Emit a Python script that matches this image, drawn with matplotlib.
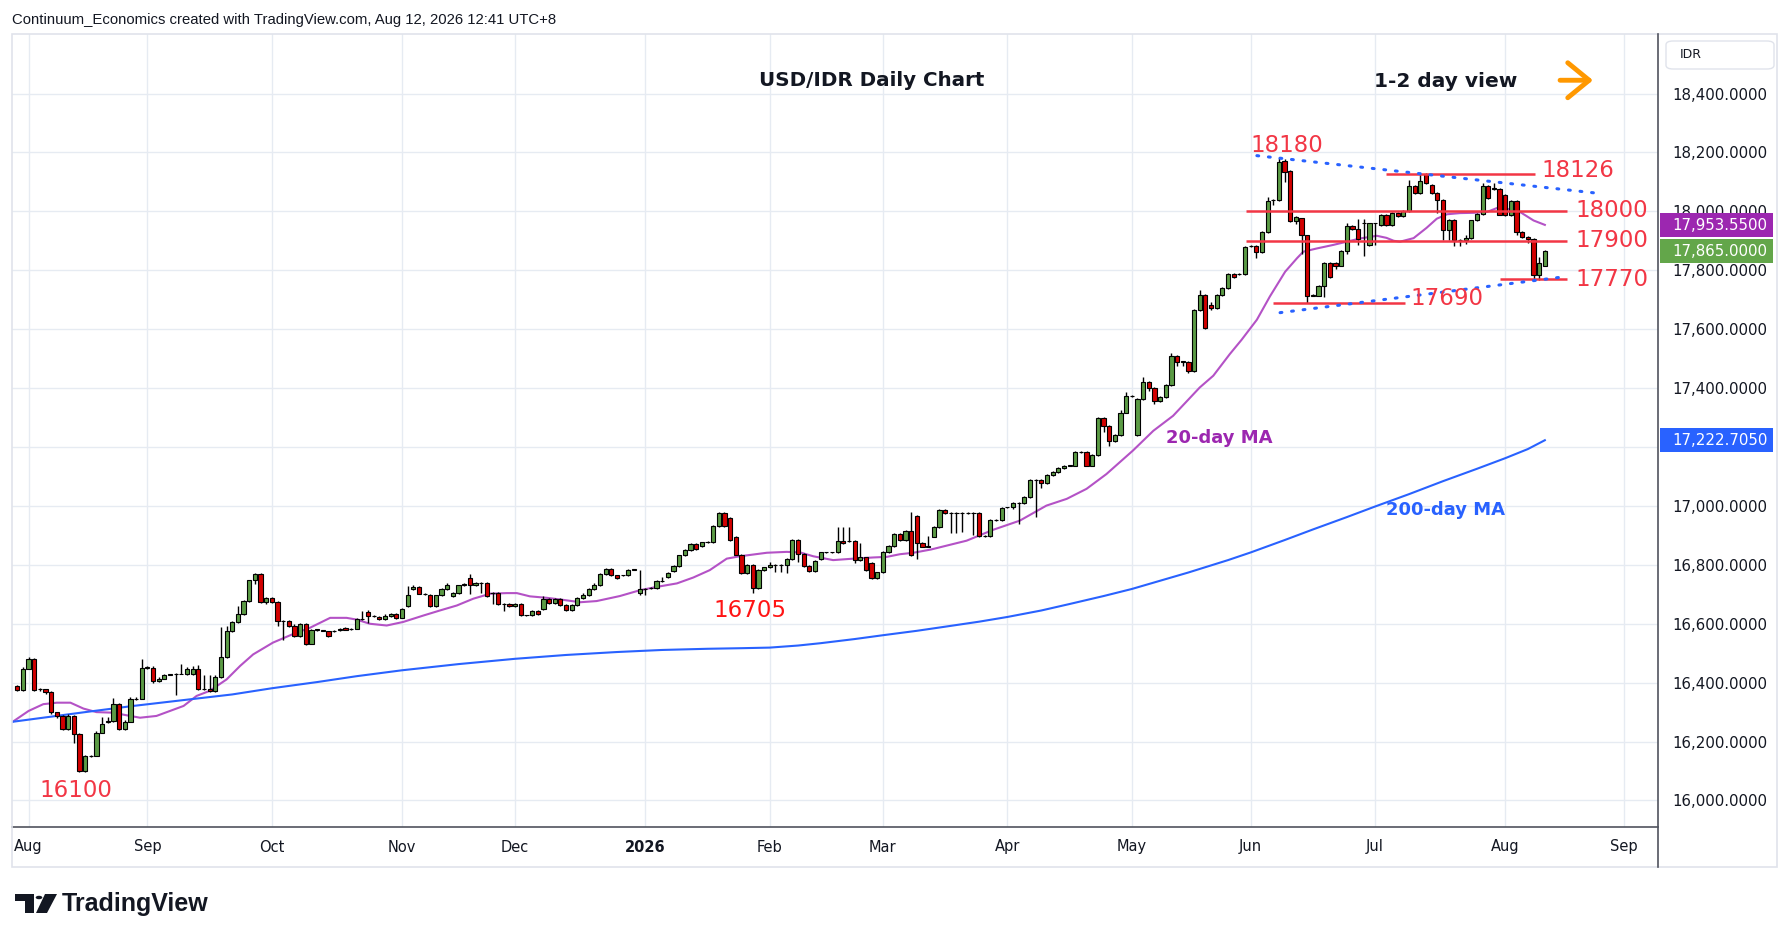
import numpy as np
import pandas as pd
import matplotlib
matplotlib.use("Agg")
import matplotlib.pyplot as plt
from matplotlib.patches import Rectangle, Polygon, Circle, FancyBboxPatch
from matplotlib.lines import Line2D
from matplotlib.transforms import blended_transform_factory

# ---------------- data ----------------
first_day, last_day = "2025-07-30", "2026-08-12"
axis_end_day = "2026-09-30"

opens = [
    16389, 16375, 16448, 16482, 16379, 16378, 16368, 16300, 16287, 16242,
    16287, 16225, 16100, 16151, 16151, 16230, 16268, 16270, 16329, 16244,
    16268, 16344, 16346, 16451, 16451, 16406, 16414, 16427, 16428, 16430,
    16428, 16428, 16446, 16378, 16378, 16371, 16419, 16487, 16574, 16606,
    16632, 16676, 16747, 16769, 16673, 16687, 16673, 16608, 16608, 16594,
    16557, 16600, 16532, 16580, 16577, 16574, 16576, 16580, 16586, 16582,
    16583, 16617, 16641, 16625, 16623, 16616, 16627, 16634, 16620, 16660,
    16719, 16724, 16702, 16698, 16660, 16696, 16719, 16694, 16705, 16730,
    16756, 16730, 16739, 16739, 16705, 16705, 16668, 16668, 16659, 16666,
    16628, 16628, 16642, 16650, 16685, 16671, 16685, 16664, 16647, 16664,
    16688, 16696, 16719, 16730, 16769, 16786, 16764, 16764, 16765, 16784,
    16703, 16717, 16720, 16720, 16746, 16757, 16780, 16797, 16832, 16850,
    16872, 16863, 16878, 16876, 16931, 16976, 16960, 16895, 16835, 16773,
    16799, 16720, 16782, 16791, 16799, 16799, 16799, 16821, 16884, 16836,
    16795, 16779, 16821, 16842, 16842, 16842, 16880, 16880, 16881, 16816,
    16825, 16807, 16754, 16774, 16844, 16864, 16905, 16885, 16916, 16965,
    16875, 16862, 16896, 16928, 16986, 16977, 16977, 16977, 16977, 16977,
    16976, 16898, 16898, 16953, 16953, 16995, 16995, 17010, 17010, 17029,
    17088, 17088, 17078, 17106, 17115, 17129, 17137, 17137, 17182, 17182,
    17137, 17174, 17300, 17272, 17221, 17241, 17317, 17372, 17241, 17363,
    17421, 17400, 17357, 17371, 17410, 17510, 17490, 17490, 17459, 17666,
    17716, 17682, 17671, 17716, 17739, 17786, 17786, 17786, 17882, 17882,
    17861, 17929, 18038, 18038, 18171, 18137, 17967, 17976, 17918, 17714,
    17714, 17748, 17824, 17824, 17816, 17866, 17951, 17939, 17959, 17886,
    17959, 17952, 17989, 17952, 17995, 17983, 18000, 18086, 18063, 18126,
    18090, 18061, 18038, 17935, 17971, 17902, 17902, 17909, 17969, 17990,
    18086, 18080, 18075, 18055, 17986, 18034, 17931, 17914, 17906, 17785,
    17816,
]
highs = [
    16392, 16452, 16487, 16485, 16382, 16380, 16370, 16302, 16290, 16292,
    16290, 16228, 16155, 16153, 16236, 16283, 16285, 16347, 16332, 16272,
    16350, 16350, 16482, 16455, 16455, 16418, 16430, 16430, 16432, 16465,
    16452, 16455, 16460, 16426, 16426, 16426, 16590, 16594, 16610, 16660,
    16680, 16750, 16772, 16772, 16690, 16690, 16676, 16612, 16612, 16598,
    16602, 16603, 16582, 16583, 16580, 16577, 16579, 16587, 16589, 16585,
    16618, 16643, 16645, 16628, 16626, 16632, 16637, 16637, 16655, 16728,
    16730, 16727, 16705, 16701, 16699, 16722, 16740, 16708, 16733, 16740,
    16768, 16742, 16742, 16742, 16708, 16708, 16671, 16671, 16669, 16669,
    16631, 16645, 16645, 16693, 16688, 16688, 16688, 16667, 16667, 16691,
    16704, 16722, 16738, 16772, 16790, 16789, 16767, 16767, 16787, 16787,
    16782, 16720, 16726, 16748, 16760, 16774, 16800, 16835, 16853, 16875,
    16875, 16879, 16881, 16934, 16979, 16979, 16963, 16898, 16838, 16802,
    16802, 16785, 16794, 16810, 16802, 16802, 16824, 16887, 16887, 16839,
    16798, 16817, 16845, 16845, 16845, 16930, 16930, 16930, 16884, 16873,
    16828, 16810, 16777, 16847, 16867, 16909, 16908, 16919, 16978, 16968,
    16878, 16898, 16931, 16989, 16989, 16980, 16980, 16980, 16980, 16980,
    16979, 16901, 16956, 16956, 16996, 16998, 17013, 17013, 17032, 17091,
    17091, 17091, 17109, 17118, 17132, 17139, 17140, 17185, 17185, 17185,
    17177, 17303, 17303, 17275, 17244, 17325, 17385, 17375, 17366, 17436,
    17424, 17403, 17374, 17413, 17520, 17513, 17493, 17493, 17669, 17733,
    17719, 17692, 17719, 17742, 17789, 17789, 17789, 17881, 17885, 17885,
    17932, 18048, 18041, 18180, 18178, 18140, 17983, 17979, 17921, 17720,
    17751, 17827, 17827, 17827, 17869, 17960, 17954, 17975, 17975, 17962,
    17962, 17992, 17992, 17998, 17998, 18003, 18105, 18089, 18126, 18129,
    18093, 18064, 18041, 17974, 17974, 17905, 17921, 17972, 17993, 18095,
    18089, 18095, 18078, 18058, 18037, 18037, 17934, 17917, 17909, 17845,
    17868,
]
lows = [
    16372, 16372, 16445, 16372, 16372, 16362, 16292, 16279, 16238, 16240,
    16195, 16098, 16096, 16148, 16150, 16228, 16262, 16268, 16240, 16240,
    16265, 16340, 16344, 16448, 16398, 16403, 16412, 16425, 16358, 16428,
    16426, 16426, 16375, 16375, 16368, 16369, 16417, 16485, 16572, 16604,
    16630, 16674, 16735, 16670, 16668, 16670, 16594, 16546, 16590, 16555,
    16555, 16527, 16530, 16576, 16574, 16555, 16573, 16577, 16578, 16579,
    16581, 16614, 16604, 16622, 16612, 16612, 16624, 16617, 16618, 16657,
    16716, 16700, 16699, 16657, 16657, 16693, 16716, 16690, 16702, 16727,
    16700, 16727, 16704, 16690, 16668, 16665, 16643, 16656, 16656, 16625,
    16625, 16625, 16631, 16647, 16668, 16668, 16661, 16644, 16644, 16661,
    16685, 16693, 16716, 16727, 16766, 16762, 16753, 16761, 16762, 16781,
    16697, 16697, 16717, 16717, 16743, 16754, 16777, 16794, 16829, 16847,
    16852, 16860, 16875, 16873, 16928, 16928, 16881, 16832, 16770, 16770,
    16705, 16717, 16779, 16788, 16774, 16774, 16772, 16818, 16810, 16792,
    16776, 16776, 16818, 16839, 16839, 16839, 16872, 16877, 16805, 16813,
    16779, 16751, 16751, 16771, 16841, 16861, 16882, 16882, 16829, 16820,
    16859, 16859, 16893, 16925, 16974, 16908, 16908, 16910, 16974, 16900,
    16895, 16893, 16895, 16950, 16950, 16992, 16989, 16939, 17007, 17026,
    16962, 17060, 17075, 17100, 17112, 17126, 17134, 17134, 17179, 17134,
    17134, 17171, 17250, 17205, 17218, 17238, 17314, 17369, 17238, 17360,
    17390, 17345, 17354, 17368, 17407, 17475, 17475, 17450, 17456, 17663,
    17600, 17665, 17668, 17713, 17736, 17773, 17783, 17783, 17879, 17843,
    17858, 17926, 18020, 18035, 18100, 17964, 17958, 17855, 17690, 17711,
    17711, 17710, 17773, 17805, 17813, 17855, 17936, 17885, 17850, 17883,
    17885, 17949, 17949, 17949, 17980, 17980, 17997, 18060, 18060, 18092,
    18058, 17993, 17903, 17903, 17883, 17883, 17890, 17906, 17966, 17987,
    18043, 18072, 17986, 17983, 17983, 17920, 17911, 17892, 17768, 17768,
    17813,
]
closes = [
    16375, 16448, 16482, 16375, 16377, 16368, 16300, 16287, 16242, 16287,
    16225, 16100, 16151, 16151, 16230, 16261, 16270, 16329, 16244, 16268,
    16344, 16346, 16451, 16451, 16406, 16414, 16426, 16428, 16428, 16430,
    16448, 16446, 16378, 16378, 16371, 16419, 16487, 16574, 16606, 16632,
    16676, 16747, 16769, 16673, 16687, 16673, 16608, 16608, 16594, 16557,
    16600, 16532, 16580, 16580, 16577, 16558, 16576, 16580, 16580, 16582,
    16615, 16617, 16627, 16625, 16616, 16627, 16634, 16620, 16651, 16696,
    16724, 16702, 16702, 16660, 16696, 16719, 16730, 16705, 16730, 16736,
    16730, 16739, 16739, 16693, 16705, 16668, 16668, 16659, 16666, 16628,
    16628, 16642, 16634, 16685, 16671, 16685, 16664, 16647, 16664, 16688,
    16696, 16719, 16730, 16769, 16786, 16764, 16756, 16764, 16784, 16784,
    16718, 16717, 16723, 16745, 16746, 16771, 16797, 16832, 16850, 16872,
    16855, 16876, 16878, 16931, 16976, 16931, 16884, 16835, 16773, 16799,
    16720, 16782, 16791, 16799, 16799, 16799, 16821, 16884, 16836, 16795,
    16779, 16814, 16842, 16842, 16842, 16880, 16875, 16880, 16816, 16825,
    16782, 16754, 16774, 16844, 16864, 16906, 16885, 16916, 16832, 16875,
    16862, 16863, 16928, 16986, 16977, 16977, 16977, 16977, 16977, 16977,
    16898, 16898, 16953, 16953, 16993, 16995, 17010, 17010, 17029, 17088,
    17088, 17078, 17106, 17115, 17129, 17136, 17137, 17182, 17182, 17137,
    17174, 17300, 17272, 17221, 17241, 17317, 17372, 17372, 17363, 17421,
    17400, 17357, 17371, 17410, 17510, 17489, 17490, 17459, 17666, 17716,
    17603, 17671, 17716, 17739, 17786, 17776, 17786, 17878, 17882, 17861,
    17929, 18035, 18038, 18166, 18134, 17967, 17980, 17918, 17714, 17714,
    17748, 17824, 17776, 17816, 17866, 17951, 17939, 17906, 17959, 17959,
    17959, 17989, 17952, 17995, 17983, 18000, 18086, 18063, 18103, 18095,
    18061, 18038, 17935, 17971, 17902, 17902, 17909, 17969, 17990, 18086,
    18046, 18075, 17989, 17986, 18034, 17929, 17914, 17906, 17785, 17825,
    17865,
]

# 20-day and 200-day moving averages (bar index, value), bar 0 = 2025-08-01
ma20_x = [-2.9, 0, 2.6, 5, 7.4, 9.7, 12, 15, 17.4, 19.7, 22.6, 25, 27.4, 29.7, 32, 35, 37.4,
          39.7, 43.2, 46.5, 49.7, 53.3, 56.2, 58, 60.3, 63.3, 66.2, 69.8, 72.7, 75.7, 78.6,
          81.6, 84.5, 86.3, 88.6, 91.6, 94.5, 97.5, 100.4, 104.5, 108.1, 111, 114.6, 117.5,
          120.4, 123.4, 125.7, 128.1, 130.5, 134, 136.4, 138.7, 142.2, 145.8, 149.3, 151.7,
          154, 156.4, 159.5, 165.8, 170.5, 175.2, 179.9, 183.5, 187, 190.5, 195.2, 198.8,
          202.3, 207, 209.4, 212.3, 214.4, 217.1, 219.4, 222.1, 224.2, 225.3, 227.7, 230.6,
          233, 235.4, 238.3, 240, 241.3, 242.4, 244.8, 247.1, 248.9, 250.7, 253, 255.4,
          257.8, 259.5, 261.3, 263.6, 266, 268]
ma20_y = [16266, 16304, 16327, 16332, 16332, 16312, 16300, 16298, 16289, 16281, 16287, 16304,
          16321, 16355, 16372, 16411, 16457, 16496, 16536, 16563, 16586, 16620, 16620, 16614,
          16600, 16594, 16606, 16628, 16645, 16662, 16685, 16702, 16704, 16704, 16693, 16688,
          16681, 16673, 16677, 16694, 16714, 16725, 16737, 16757, 16782, 16821, 16829, 16835,
          16841, 16844, 16842, 16829, 16816, 16821, 16825, 16827, 16836, 16841, 16852, 16882,
          16919, 16950, 17001, 17024, 17058, 17108, 17188, 17255, 17306, 17402, 17442, 17515,
          17564, 17632, 17711, 17795, 17841, 17863, 17874, 17886, 17897, 17908, 17917, 17910,
          17900, 17897, 17909, 17944, 17975, 17990, 17994, 17995, 17998, 18011, 18009, 17998,
          17969, 17954]
ma200_x = [-2.9, 10, 18.5, 27, 36, 43, 51, 58, 66, 76, 86, 95, 104, 112, 120, 126, 131,
           136, 140, 146, 151, 157, 162, 168, 173, 179, 184, 190, 195, 200, 205, 209, 212,
           216, 222, 227, 233, 238, 244, 250, 256, 261, 265, 268]
ma200_y = [16267, 16300, 16321, 16340, 16360, 16381, 16402, 16422, 16442, 16463, 16481,
           16494, 16504, 16511, 16515, 16517, 16519, 16526, 16534, 16548, 16561, 16576,
           16590, 16607, 16623, 16645, 16667, 16694, 16718, 16746, 16774, 16798, 16816,
           16842, 16884, 16920, 16962, 16998, 17040, 17084, 17126, 17162, 17193, 17223]

month_labels = ["Aug", "Sep", "Oct", "Nov", "Dec", "2026", "Feb", "Mar", "Apr", "May",
                "Jun", "Jul", "Aug", "Sep"]
price_ticks = list(range(16000, 18401, 200))
hidden_tick = 17200  # covered by the 200-day MA price tag in the original

levels = [18126, 18000, 17900, 17770, 17690]
level_labels = ["18126", "18000", "17900", "17770", "17690"]
last_close = 17865.0
last_ma20 = 17953.55
last_ma200 = 17222.705
upper_trend = ([217.1, 278.0], [18189, 18060])
lower_trend = ([221.2, 271.5], [17656, 17778])

# ---------------- figure ----------------
W, H = 1792, 942
fig = plt.figure(figsize=(W / 100, H / 100), dpi=100)
fig.patch.set_facecolor("white")


def fx(px):
    return px / W


def fy(py):
    return 1 - py / H


AX_L, AX_T, AX_R, AX_B = 12, 34, 1658, 827
YMIN, YMAX = 15910, 18602
ax = fig.add_axes([fx(AX_L), fy(AX_B), (AX_R - AX_L) / W, (AX_B - AX_T) / H])
ax.set_facecolor("white")

dates = pd.bdate_range(first_day, last_day)
x = np.arange(len(dates)) - dates.get_loc(pd.Timestamp("2025-08-01"))
o = np.array(opens, float)
h = np.array(highs, float)
l = np.array(lows, float)
c = np.array(closes, float)

GREEN = "#5b9b45"
RED = "#d20000"
up = c >= o
ax.vlines(x, l, h, color="black", lw=1.0, zorder=3)
ax.bar(x, np.maximum(np.abs(c - o), 0.5), bottom=np.minimum(o, c), width=0.74,
       color=np.where(up, GREEN, RED), edgecolor="black", linewidth=0.8, zorder=4)

ax.plot(ma20_x, ma20_y, color="#b452c6", lw=1.5, zorder=2)
ax.plot(ma200_x, ma200_y, color="#2962ff", lw=1.5, zorder=2)

# levels
LRED = "#f23645"
lvl_x0 = [240, 215.2, 215.2, 260, 220]
lvl_x1 = [266.3, 272, 272, 272, 243.3]
for v, a, b in zip(levels, lvl_x0, lvl_x1):
    ax.hlines(v, a, b, color=LRED, lw=1.8, zorder=5)

ax.plot(*upper_trend, color="#2962ff", lw=2.2, ls=(0, (0.6, 3.2)), dash_capstyle="round", zorder=5)
ax.plot(*lower_trend, color="#2962ff", lw=2.2, ls=(0, (0.6, 3.2)), dash_capstyle="round", zorder=5)

# axes styling
month_pos = []
full = pd.bdate_range(first_day, axis_end_day)
fx_full = np.arange(len(full)) - full.get_loc(pd.Timestamp("2025-08-01"))
for i in range(1, len(full)):
    if full[i].month != full[i - 1].month:
        month_pos.append(fx_full[i])

ax.set_xlim(-2.93, 288.0)
ax.set_ylim(YMIN, YMAX)
ax.set_xticks(month_pos)
ax.set_xticklabels(month_labels)
ax.set_yticks(price_ticks)
ax.set_yticklabels(["" if v == hidden_tick else f"{v:,.4f}" for v in price_ticks])
ax.yaxis.tick_right()
ax.tick_params(axis="y", length=0, pad=10, labelsize=10.8, labelcolor="#131722")
ax.tick_params(axis="x", length=0, pad=9, labelsize=10.5, labelcolor="#131722")
for t in ax.get_xticklabels():
    if t.get_text() == "2026":
        t.set_fontweight("bold")
ax.grid(True, color="#e6ebf2", lw=1.0)
ax.set_axisbelow(True)
for s in ["top", "left", "right"]:
    ax.spines[s].set_visible(False)
ax.spines["bottom"].set_color("#50535e")
ax.spines["bottom"].set_linewidth(1.2)

# annotations
ax.text(149.1, 18445, "USD/IDR Daily Chart", ha="center", va="center", fontsize=14.3,
        fontweight="bold", color="#131722", zorder=6)
ax.text(250.4, 18442, "1-2 day view", ha="center", va="center", fontsize=14.5,
        fontweight="bold", color="#131722", zorder=6)
ax.annotate("", xy=(277.0, 18445), xytext=(270.2, 18445),
            arrowprops=dict(arrowstyle="->,head_length=0.55,head_width=0.45", lw=3.5,
                            color="#ff9800", mutation_scale=28), zorder=6)

lab_kw = dict(fontsize=16.5, color=LRED, va="center", ha="left", zorder=6)
ax.text(215.9, 18222, "18180", **lab_kw)
ax.text(267.4, 18140, level_labels[0], **lab_kw)
ax.text(273.4, 18003, level_labels[1], **lab_kw)
ax.text(273.4, 17900, level_labels[2], **lab_kw)
ax.text(273.4, 17770, level_labels[3], **lab_kw)
ax.text(244.2, 17705, level_labels[4], **lab_kw)
ax.text(121.0, 16645, "16705", fontsize=16.5, color="#ff1414", va="center", ha="left", zorder=6)
ax.text(2.0, 16033, "16100", **lab_kw)
ax.text(201.1, 17231, "20-day MA", fontsize=13, fontweight="bold", color="#9c27b0",
        va="center", ha="left", zorder=6)
ax.text(240.0, 16986, "200-day MA", fontsize=13, fontweight="bold", color="#2962ff",
        va="center", ha="left", zorder=6)

# price boxes on the right scale
bt = blended_transform_factory(fig.transFigure, ax.transData)
box_h = 24 / ((AX_B - AX_T) / (YMAX - YMIN))
for val, col in [(last_ma20, "#9c27b0"), (last_close, "#63a64a"), (last_ma200, "#2962ff")]:
    fig.add_artist(Rectangle((fx(1660), val - box_h / 2), (1773 - 1660) / W, box_h,
                             transform=bt, facecolor=col, edgecolor="none", zorder=5))
    fig.add_artist(plt.Text(fx(1672), val, f"{val:,.4f}", transform=bt, color="white",
                            fontsize=10.8, va="center", ha="left", zorder=6))

# IDR box
fig.add_artist(FancyBboxPatch((fx(1666), fy(69)), (1774 - 1666) / W, 28 / H,
                              boxstyle="round,pad=0,rounding_size=0.004",
                              transform=fig.transFigure, facecolor="white",
                              edgecolor="#e0e3eb", lw=1.0))
fig.text(fx(1680), fy(55), "IDR", fontsize=9, color="#131722", va="center", ha="left")

# frame
fig.add_artist(Rectangle((fx(12), fy(867)), (1777 - 12) / W, (867 - 34) / H, fill=False,
                         edgecolor="#e0e3eb", lw=1.2, transform=fig.transFigure))
fig.add_artist(Line2D([fx(1658), fx(1658)], [fy(34), fy(867)], color="#50535e", lw=1.2,
                      transform=fig.transFigure))

# header
fig.text(fx(12), fy(20), "Continuum_Economics created with TradingView.com, Aug 12, 2026 12:41 UTC+8",
         fontsize=10.7, family="Liberation Sans", color="#131722", va="center", ha="left")

# TradingView logo
def P(pts):
    return [(fx(a), fy(b)) for a, b in pts]

fig.add_artist(Polygon(P([(15, 894), (34, 894), (34, 913), (25, 913), (25, 901), (15, 901)]),
                       closed=True, transform=fig.transFigure, facecolor="#131722", edgecolor="none"))
fig.add_artist(Polygon(P([(45, 894), (57, 894), (47, 913), (36, 913)]),
                       closed=True, transform=fig.transFigure, facecolor="#131722", edgecolor="none"))
fig.add_artist(Circle((fx(39), fy(897.5)), 3.3 / W, transform=fig.transFigure,
                      facecolor="#131722", edgecolor="none"))
fig.text(fx(62), fy(904), "TradingView", fontsize=18, fontweight="bold", family="Liberation Sans",
         color="#131722", va="center", ha="left")

fig.savefig("out.png", dpi=100, facecolor="white")
